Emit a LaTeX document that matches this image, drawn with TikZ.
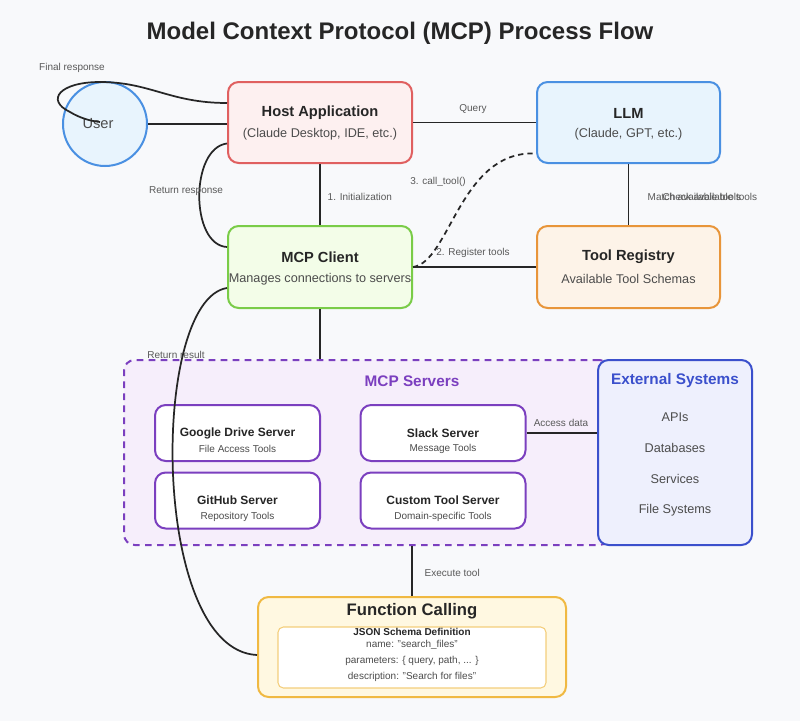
\documentclass[tikz,border=0pt]{standalone}
\usepackage{fontspec}
\setmainfont{Liberation Sans}
\begin{document}
\begin{tikzpicture}[x=0.75pt,y=-0.75pt,
  box/.style={draw, line width=1.5pt, rounded corners=8pt},
  lbl/.style={font=\fontsize{7.5}{9}\selectfont, text=black!65},
  ttl/.style={font=\fontsize{11}{13}\selectfont\bfseries, text=black!85},
  sub/.style={font=\fontsize{9.5}{11}\selectfont, text=black!70},
  stl/.style={font=\fontsize{9}{11}\selectfont\bfseries, text=black!85},
  ssub/.style={font=\fontsize{7.5}{9}\selectfont, text=black!70},
  con/.style={draw=black!85, line width=1.3pt}]
\definecolor{bg}{HTML}{F8F9FB}
\definecolor{ublue}{HTML}{4A90E2}\definecolor{lblue}{HTML}{E8F4FD}
\definecolor{hred}{HTML}{E06060}\definecolor{lred}{HTML}{FDF0F0}
\definecolor{cgreen}{HTML}{7ACC48}\definecolor{lgreen}{HTML}{F3FDE8}
\definecolor{torange}{HTML}{E8953A}\definecolor{lorange}{HTML}{FDF3E8}
\definecolor{purp}{HTML}{7B3FBF}\definecolor{lpurp}{HTML}{F6EEFB}
\definecolor{eblue}{HTML}{3B50CC}\definecolor{leblue}{HTML}{EEF0FD}
\definecolor{fyel}{HTML}{F0B942}\definecolor{lyel}{HTML}{FFF8E1}
\fill[bg] (0,0) rectangle (800,721);
\useasboundingbox (0,0) rectangle (800,721);
\node[font=\fontsize{18}{22}\selectfont\bfseries, text=black!85] (title) at (400,33) {Model Context Protocol (MCP) Process Flow};
% boxes
\node[box, draw=purp, fill=lpurp, dashed, dash pattern=on 5pt off 4pt, minimum width=486*0.75pt, minimum height=185*0.75pt] (srv) at (367,452.5) {};
\node[purp, font=\fontsize{11.5}{13}\selectfont\bfseries] (srvt) at (412,381) {MCP Servers};
\node[box, draw=eblue, fill=leblue, minimum width=154*0.75pt, minimum height=185*0.75pt] (ext) at (675,452.5) {};
\node[eblue, font=\fontsize{11.5}{13}\selectfont\bfseries] (extt) at (675,381) {External Systems};
\node[sub] (e1) at (675,417) {APIs};
\node[sub] (e2) at (675,448) {Databases};
\node[sub] (e3) at (675,479) {Services};
\node[sub] (e4) at (675,510) {File Systems};
\node[box, draw=ublue, fill=lblue, circle, minimum size=84*0.75pt, inner sep=0pt] (user) at (105,124) {};
\node[box, draw=hred, fill=lred, minimum width=184*0.75pt, minimum height=81*0.75pt] (host) at (320,122.5) {};
\node[box, draw=ublue, fill=lblue, minimum width=183*0.75pt, minimum height=81*0.75pt] (llm) at (628.5,122.5) {};
\node[box, draw=cgreen, fill=lgreen, minimum width=184*0.75pt, minimum height=82*0.75pt] (cli) at (320,267) {};
\node[box, draw=torange, fill=lorange, minimum width=183*0.75pt, minimum height=82*0.75pt] (reg) at (628.5,267) {};
\node[box, draw=fyel, fill=lyel, minimum width=308*0.75pt, minimum height=100*0.75pt] (fc) at (412,647) {};
\node[draw=fyel!70, fill=white, rounded corners=4pt, line width=0.8pt, minimum width=268*0.75pt, minimum height=61*0.75pt] (json) at (412,657.5) {};
\foreach \n/\x/\y/\t/\s in {gd/237.5/433/Google Drive Server/File Access Tools, sl/443/433/Slack Server/Message Tools, gh/237.5/500.5/GitHub Server/Repository Tools, ct/443/500.5/Custom Tool Server/Domain-specific Tools}{
  \node[box, draw=purp, fill=white, minimum width=165*0.75pt, minimum height=56*0.75pt] (\n) at (\x,\y) {};
  \node[stl] at (\x,\y) {\t};
  \node[ssub] at (\x,\y+16) {\s};
}
% texts
\node[sub, font=\fontsize{11}{13}\selectfont] (usert) at (98,124) {User};
\node[ttl] at (320,113) {Host Application};
\node[sub] at (320,134) {(Claude Desktop, IDE, etc.)};
\node[ttl] at (628.5,113) {LLM};
\node[sub] at (628.5,134) {(Claude, GPT, etc.)};
\node[ttl] at (320,257) {MCP Client};
\node[sub] at (320,279) {Manages connections to servers};
\node[ttl] at (628.5,257) {Tool Registry};
\node[sub] at (628.5,279) {Available Tool Schemas};
\node[font=\fontsize{12.5}{15}\selectfont\bfseries, text=black!85] at (412,611) {Function Calling};
\node[font=\fontsize{7.5}{9}\selectfont\bfseries, text=black!85] at (412,632) {JSON Schema Definition};
\node[ssub] at (412,645) {name: "search\_files"};
\node[ssub] at (412,661) {parameters: \{ query, path, ... \}};
\node[ssub] at (412,677) {description: "Search for files"};
% connectors
\draw[con] (user.east) -- (user.east -| host.west);
\draw[con] ([yshift=19.5*0.75pt]host.west) .. controls (170,103) and (150,82) .. (100,82) .. controls (60,82) and (45,100) .. (70,112) .. controls (80,118) and (90,121) .. (100,122);
\node[lbl] at (72,68) {Final response};
\draw[con] (host.east) -- (llm.west);
\node[lbl] at (473,109) {Query};
\draw[con] (host.south) -- (cli.north);
\node[lbl, anchor=west] at (323,197) {1. Initialization};
\draw[con] ([yshift=-21*0.75pt]host.west) .. controls (190,148) and (190,245) .. ([yshift=20*0.75pt]cli.west);
\node[lbl] at (186,191) {Return response};
\draw[con] (cli.east) -- (reg.west);
\node[lbl] at (473,253) {2. Register tools};
\draw[con, dashed, dash pattern=on 4pt off 3pt] (cli.east) .. controls (450,262) and (460,150) .. ([yshift=-31*0.75pt]llm.west);
\node[lbl] at (438,182) {3. call\_tool()};
\draw[con] (llm.south) -- (reg.north);
\node[lbl, anchor=west] at (643,197) {Match available tools};
\node[lbl, anchor=west] at (658,197) {Check available tools};
\draw[con] (cli.south) -- (cli.south |- srv.north);
\draw[con] ([yshift=-21*0.75pt]cli.west) .. controls (150,300) and (150,650) .. ([yshift=-8*0.75pt]fc.west);
\node[lbl] at (176,355) {Return result};
\draw[con] (sl.east) -- (sl.east -| ext.west);
\node[lbl] at (561,423) {Access data};
\draw[con] (srv.south -| fc.north) -- (fc.north);
\node[lbl, anchor=west] at (420,573) {Execute tool};
\end{tikzpicture}
\end{document}
